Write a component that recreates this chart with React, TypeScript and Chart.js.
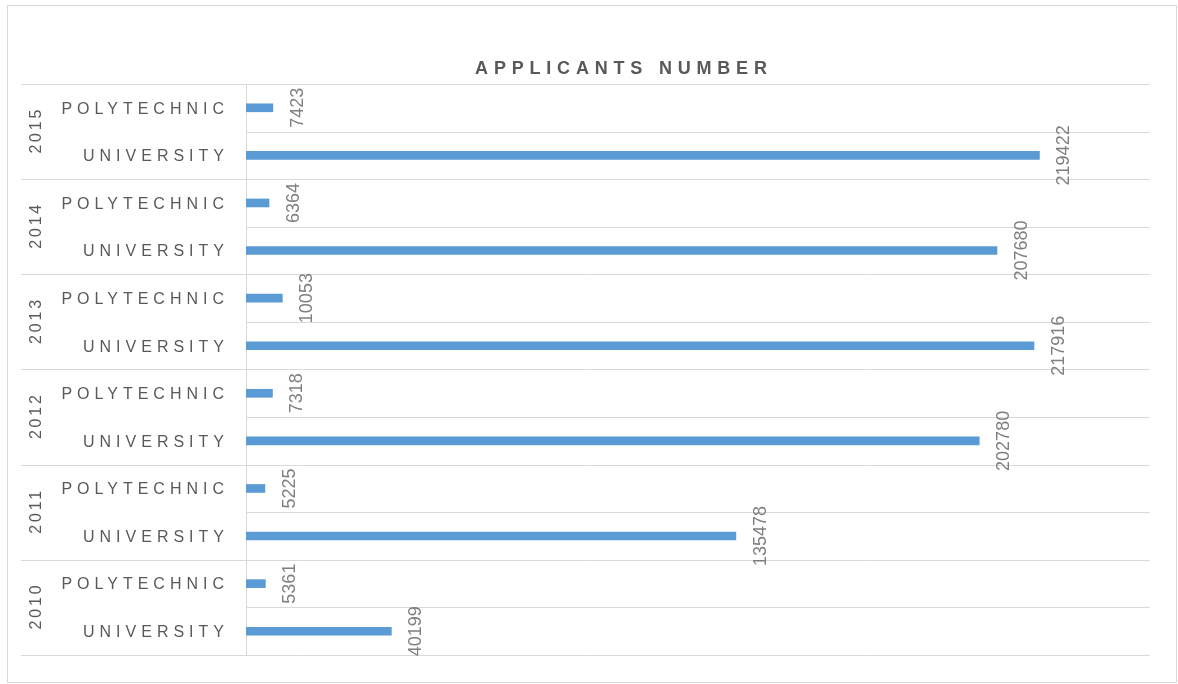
import React, { useEffect, useRef } from 'react';
import { Chart, registerables } from 'chart.js';

Chart.register(...registerables);

const chartTitle = 'APPLICANTS NUMBER';
const years = ['2015', '2014', '2013', '2012', '2011', '2010'];
const types = ['POLYTECHNIC', 'UNIVERSITY'];
const polytechnic = [7423, 6364, 10053, 7318, 5225, 5361];
const university = [219422, 207680, 217916, 202780, 135478, 40199];
const axisMax = 250000;

const rowLabels: string[] = [];
const rowTypes: string[] = [];
const rowValues: number[] = [];
years.forEach((y, i) => {
  rowLabels.push(y + ' ' + types[0]);
  rowTypes.push(types[0]);
  rowValues.push(polytechnic[i]);
  rowLabels.push(y + ' ' + types[1]);
  rowTypes.push(types[1]);
  rowValues.push(university[i]);
});

const FONT = '"Liberation Sans", Arial, Helvetica, sans-serif';

const decorPlugin = {
  id: 'decor',
  beforeDraw(chart: any) {
    const ctx = chart.ctx as CanvasRenderingContext2D;
    const { left, right, top, bottom } = chart.chartArea;
    const ys = chart.scales.y;
    ctx.save();
    ctx.fillStyle = '#ffffff';
    ctx.fillRect(0, 0, chart.width, chart.height);
    ctx.strokeStyle = '#d9d9d9';
    ctx.lineWidth = 1;
    ctx.strokeRect(7.5, 5.5, 1169, 677);
    const n = rowLabels.length;
    const step = ys.getPixelForValue(1) - ys.getPixelForValue(0);
    for (let i = 0; i <= n; i++) {
      const yy = Math.round(ys.getPixelForValue(i) - step / 2) + 0.5;
      const x0 = i % 2 === 0 ? 21 : left;
      ctx.beginPath();
      ctx.moveTo(x0, yy);
      ctx.lineTo(right, yy);
      ctx.stroke();
    }
    ctx.beginPath();
    ctx.moveTo(left + 0.5, top);
    ctx.lineTo(left + 0.5, bottom);
    ctx.stroke();
    ctx.restore();
  },
  afterDraw(chart: any) {
    const ctx = chart.ctx as CanvasRenderingContext2D;
    const ys = chart.scales.y;
    ctx.save();

    // Title
    ctx.fillStyle = '#595959';
    ctx.font = 'bold 18px ' + FONT;
    (ctx as any).letterSpacing = '5.8px';
    ctx.textAlign = 'center';
    ctx.textBaseline = 'alphabetic';
    ctx.fillText(chartTitle, 621 + 2.9, 74);

    // Category labels
    ctx.font = '16px ' + FONT;
    (ctx as any).letterSpacing = '5px';
    ctx.textAlign = 'right';
    rowTypes.forEach((t, i) => {
      const yc = ys.getPixelForValue(i);
      ctx.fillText(t, 229, yc + 5.8);
    });

    // Year labels (rotated)
    (ctx as any).letterSpacing = '2.8px';
    ctx.textAlign = 'center';
    years.forEach((y, g) => {
      const yc = (ys.getPixelForValue(g * 2) + ys.getPixelForValue(g * 2 + 1)) / 2;
      ctx.save();
      ctx.translate(41, yc);
      ctx.rotate(-Math.PI / 2);
      ctx.fillText(y, 1.4, 0);
      ctx.restore();
    });

    // Data labels (rotated)
    ctx.fillStyle = '#7f7f7f';
    ctx.font = '18px ' + FONT;
    (ctx as any).letterSpacing = '0px';
    ctx.textAlign = 'center';
    const meta = chart.getDatasetMeta(0);
    meta.data.forEach((el: any, i: number) => {
      ctx.save();
      ctx.translate(el.x + 30, el.y);
      ctx.rotate(-Math.PI / 2);
      ctx.fillText(String(rowValues[i]), 0, 0);
      ctx.restore();
    });
    ctx.restore();
  },
};

export default function App() {
  const ref = useRef<HTMLCanvasElement | null>(null);
  useEffect(() => {
    document.body.style.margin = '0';
    const canvas = ref.current;
    if (!canvas) return;
    const chart = new Chart(canvas, {
      type: 'bar',
      data: {
        labels: rowLabels,
        datasets: [
          {
            data: rowValues,
            backgroundColor: '#5b9bd5',
            barThickness: 8,
            borderWidth: 0,
          },
        ],
      },
      options: {
        indexAxis: 'y',
        animation: false,
        responsive: false,
        maintainAspectRatio: false,
        devicePixelRatio: 1,
        layout: { padding: { left: 246, right: 28, top: 84, bottom: 29 } },
        plugins: {
          legend: { display: false },
          title: { display: false },
          tooltip: { enabled: false },
        },
        scales: {
          x: { display: false, min: 0, max: axisMax },
          y: { display: false, offset: true },
        },
      },
      plugins: [decorPlugin],
    });
    return () => chart.destroy();
  }, []);
  return (
    <div style={{ width: 1178, height: 684 }}>
      <canvas ref={ref} width={1178} height={684} style={{ display: 'block' }} />
    </div>
  );
}
